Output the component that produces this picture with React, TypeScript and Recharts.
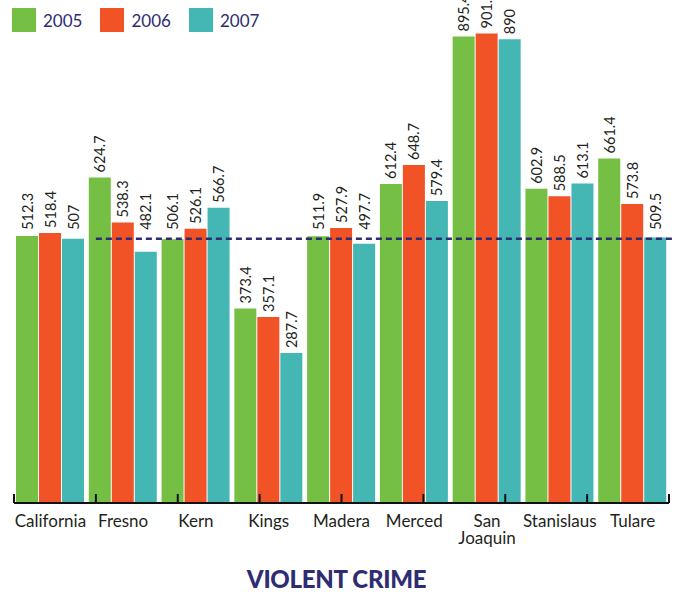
import { BarChart, Bar, XAxis, YAxis, ReferenceLine, LabelList } from "recharts";

const counties = ["California", "Fresno", "Kern", "Kings", "Madera", "Merced", "San Joaquin", "Stanislaus", "Tulare"];
const rate2005 = [512.3, 624.7, 506.1, 373.4, 511.9, 612.4, 895.4, 602.9, 661.4];
const rate2006 = [518.4, 538.3, 526.1, 357.1, 527.9, 648.7, 901.2, 588.5, 573.8];
const rate2007 = [507, 482.1, 566.7, 287.7, 497.7, 579.4, 890, 613.1, 509.5];
const years = ["2005", "2006", "2007"];
const colors = ["#75c044", "#f15326", "#44b7b4"];

// statewide 2007 rate, drawn as the dashed benchmark across the counties
const stateRate = rate2007[0];

const data = counties.map((county, i) => ({
  county,
  y2005: rate2005[i],
  y2006: rate2006[i],
  y2007: rate2007[i],
}));

// group boundaries for the small upward tick marks
const edges = Array.from({ length: counties.length + 1 }, (_, i) => i);

const NAVY = "#2e2c72";
const FONT = "Lato, 'Open Sans', sans-serif";

// labels sit above the bar; bars ending just under the dashed line
// get their label lifted clear of it
const ValueLabel = (p: any) => {
  const cx = p.x + p.width / 2;
  const bottom = p.y + p.height;
  const lineY = bottom - (stateRate * p.height) / p.value;
  let top = p.y - 5;
  if (p.y - lineY < 30) top = Math.min(top, lineY - 9);
  return (
    <text
      transform={`translate(${cx},${top}) rotate(-90)`}
      fontSize={14.5}
      fontFamily={FONT}
      fill="#231f20"
      dominantBaseline="central"
      textAnchor="start"
    >
      {p.value}
    </text>
  );
};

const CountyTick = ({ x, y, payload }: any) => {
  const lines = String(payload.value).split(" ");
  return (
    <g>
      {lines.map((l, i) => (
        <text
          key={i}
          x={x}
          y={y + 16 + i * 17}
          textAnchor="middle"
          fontSize={17}
          fontFamily={FONT}
          fill="#231f20"
        >
          {l}
        </text>
      ))}
    </g>
  );
};

const EdgeTick = (p: any) => {
  const base = Math.max(p.y1, p.y2);
  return <line x1={p.x1} x2={p.x2} y1={base} y2={base - 9} stroke="#111" strokeWidth={2} />;
};

export default function App() {
  return (
    <div style={{ position: "relative", width: 673, height: 593, background: "#fff", fontFamily: FONT }}>
      <style>{"body{margin:0}"}</style>
      <BarChart
        width={673}
        height={593}
        data={data}
        margin={{ top: 8, right: 4, bottom: 50, left: 14 }}
        barGap={1}
        barCategoryGap={2}
      >
        <XAxis
          dataKey="county"
          interval={0}
          tickLine={false}
          axisLine={{ stroke: "#111", strokeWidth: 2 }}
          tick={<CountyTick />}
          height={40}
        />
        <XAxis xAxisId="edge" type="number" domain={[0, counties.length]} hide />
        <YAxis hide domain={[0, 950]} />
        <Bar dataKey="y2005" fill={colors[0]} isAnimationActive={false}>
          <LabelList dataKey="y2005" content={ValueLabel} />
        </Bar>
        <Bar dataKey="y2006" fill={colors[1]} isAnimationActive={false}>
          <LabelList dataKey="y2006" content={ValueLabel} />
        </Bar>
        <Bar dataKey="y2007" fill={colors[2]} isAnimationActive={false}>
          <LabelList dataKey="y2007" content={ValueLabel} />
        </Bar>
        <ReferenceLine
          xAxisId="edge"
          segment={[
            { x: 1, y: stateRate },
            { x: counties.length + 0.05, y: stateRate },
          ]}
          stroke={NAVY}
          strokeWidth={2.5}
          strokeDasharray="6 4"
          ifOverflow="visible"
        />
        {edges.map((e) => (
          <ReferenceLine key={e} xAxisId="edge" x={e} shape={EdgeTick} ifOverflow="visible" />
        ))}
      </BarChart>

      <div style={{ position: "absolute", top: 8, left: 12, display: "flex", alignItems: "center" }}>
        {years.map((yr, i) => (
          <div key={yr} style={{ display: "flex", alignItems: "center", marginRight: 18 }}>
            <div style={{ width: 24, height: 24, background: colors[i] }} />
            <span style={{ marginLeft: 7, fontSize: 17, color: NAVY }}>{yr}</span>
          </div>
        ))}
      </div>

      <div
        style={{
          position: "absolute",
          top: 564,
          left: 0,
          width: 673,
          textAlign: "center",
          fontSize: 24,
          fontWeight: 900,
          color: NAVY,
          letterSpacing: -0.3,
        }}
      >
        VIOLENT CRIME
      </div>
    </div>
  );
}
